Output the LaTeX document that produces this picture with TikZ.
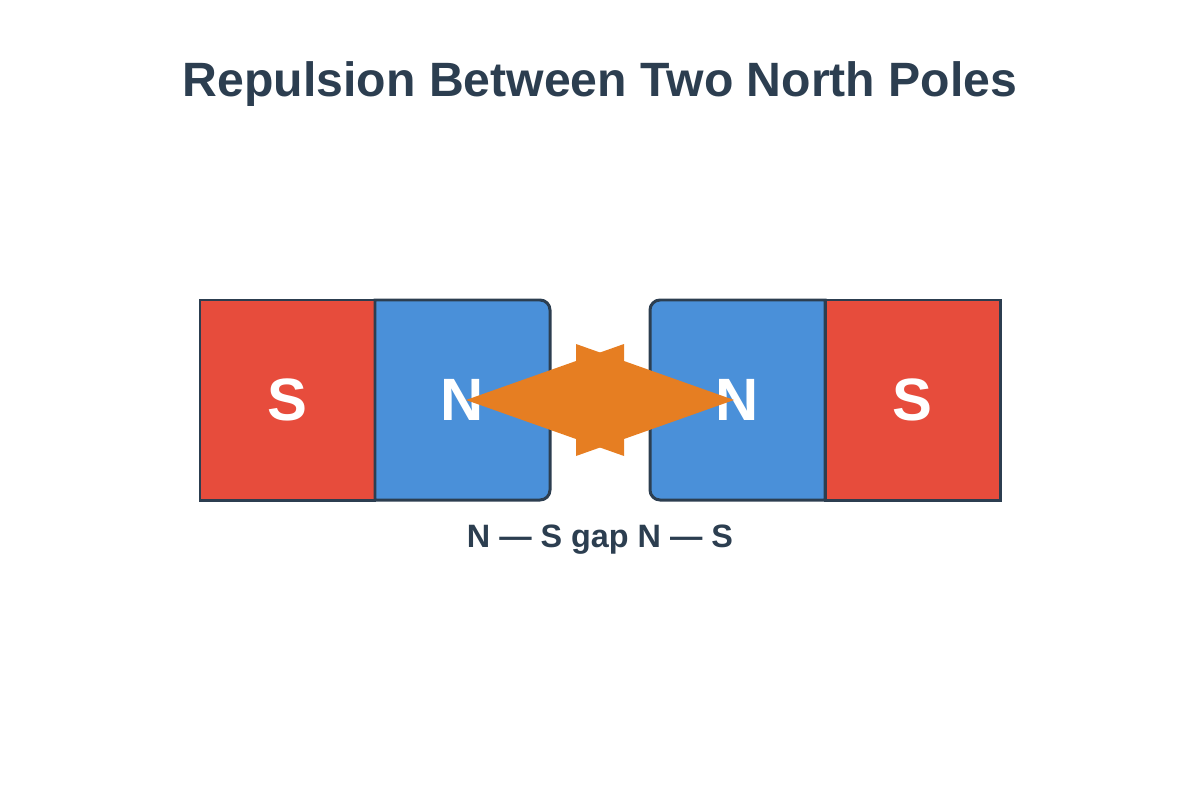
\documentclass[tikz,border=0pt]{standalone}
\usepackage{fontspec}
\setmainfont{Liberation Sans}
\begin{document}
\begin{tikzpicture}[x=0.01cm,y=-0.01cm,
  pole/.style={draw=edge,line width=0.85pt},
  lbl/.style={text=white,font=\bfseries\fontsize{17}{20}\selectfont}]
\definecolor{edge}{HTML}{2C3E50}
\definecolor{sred}{HTML}{E74C3C}
\definecolor{nblue}{HTML}{4A90D9}
\definecolor{force}{HTML}{E67E22}
\useasboundingbox (0,0) rectangle (1200,800);
\node[font=\bfseries\fontsize{13.7}{16}\selectfont,text=edge] (title) at (600,84) {Repulsion Between Two North Poles};
% left magnet
\filldraw[pole,fill=sred] (200,300) rectangle (375,500);
\filldraw[pole,fill=nblue] (375,300) -- (540,300) arc[start angle=90,end angle=0,x radius=10,y radius=-10] -- (550,490) arc[start angle=0,end angle=-90,x radius=10,y radius=-10] -- (375,500) -- cycle;
% right magnet
\filldraw[pole,fill=sred] (825,300) rectangle (1000,500);
\filldraw[pole,fill=nblue] (825,300) -- (660,300) arc[start angle=90,end angle=180,x radius=10,y radius=-10] -- (650,490) arc[start angle=180,end angle=270,x radius=10,y radius=-10] -- (825,500) -- cycle;
\node[lbl] (s1) at (287,400) {S};
\node[lbl] (n1) at (462,400) {N};
\node[lbl] (n2) at (737,400) {N};
\node[lbl] (s2) at (912,400) {S};
% repulsion arrows
\fill[force] (466,400) -- (624,344) -- (624,456) -- cycle;
\fill[force] (734,400) -- (576,344) -- (576,456) -- cycle;
\node[font=\bfseries\fontsize{9.2}{11}\selectfont,text=edge] (cap) at (600,540) {N — S gap N — S};
\end{tikzpicture}
\end{document}
